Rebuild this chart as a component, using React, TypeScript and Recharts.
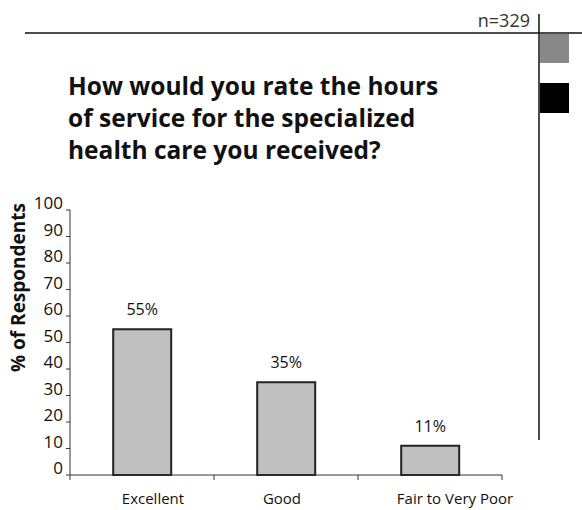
import React from "react";
import { BarChart, Bar, XAxis, YAxis, LabelList, Label } from "recharts";

// 카테고리와 응답 비율(%)
const categories = ["Excellent", "Good", "Fair to Very Poor"];
const percents = [55, 35, 11];
const yTicks = [0, 10, 20, 30, 40, 50, 60, 70, 80, 90, 100];
const edgeTicks = [0, 1, 2, 3];
const titleLines = [
  "How would you rate the hours",
  "of service for the specialized",
  "health care you received?",
];
const sampleNote = "n=329";

// 엑셀 원본처럼 카테고리 라벨이 살짝 어긋나 있음 (스타일용 이동값)
const labelShift: Record<string, number> = {
  Excellent: 11,
  Good: -4,
  "Fair to Very Poor": 25,
};

const data = categories.map((name, i) => ({ name, value: percents[i], edge: i }));

const FONT = "'Open Sans', sans-serif";

function YTick(props: any) {
  const { x, y, payload } = props;
  return (
    <text x={x} y={y} dy={-1} textAnchor="end" fontSize={17} fontFamily={FONT} fill="#111">
      {payload.value}
    </text>
  );
}

function XTick(props: any) {
  const { x, y, payload } = props;
  const shift = labelShift[payload.value] ?? 0;
  return (
    <text x={x + shift} y={y} dy={20} textAnchor="middle" fontSize={15} fontFamily={FONT} fill="#111">
      {payload.value}
    </text>
  );
}

function YLabel(props: any) {
  const vb = props.viewBox || {};
  const cx = 18;
  const cy = vb.y + vb.height / 2 - 55;
  return (
    <text
      x={cx}
      y={cy}
      transform={`rotate(-90, ${cx}, ${cy})`}
      textAnchor="middle"
      dominantBaseline="central"
      fontSize={19}
      fontWeight="bold"
      fontFamily={FONT}
      fill="#111"
    >
      % of Respondents
    </text>
  );
}

export default function App() {
  return (
    <div style={{ position: "absolute", left: 0, top: 0, width: 582, height: 510, background: "#fff" }}>
      {/* 상단 장식선, 제목, n 표기 */}
      <svg width={582} height={510} style={{ position: "absolute", left: 0, top: 0 }}>
        <line x1={25} y1={33} x2={582} y2={33} stroke="#111" strokeWidth={1.5} />
        <line x1={539} y1={14} x2={539} y2={440} stroke="#111" strokeWidth={1.5} />
        <rect x={540} y={34} width={29} height={29} fill="#888" />
        <rect x={540} y={83} width={29} height={30} fill="#000" />
        <text x={530} y={27} textAnchor="end" fontSize={18} fontFamily={FONT} fill="#333">
          {sampleNote}
        </text>
        {titleLines.map((t, i) => (
          <text
            key={t}
            x={68}
            y={95 + i * 32}
            fontSize={24.5}
            fontWeight="bold"
            fontFamily={FONT}
            fill="#111"
          >
            {t}
          </text>
        ))}
      </svg>
      <div style={{ position: "absolute", left: 0, top: 0 }}>
        <BarChart
          width={582}
          height={510}
          data={data}
          margin={{ top: 210, right: 80, bottom: 5, left: 0 }}
          barCategoryGap="30%"
        >
          <XAxis
            xAxisId="b_cat"
            dataKey="name"
            height={29}
            axisLine={false}
            tickLine={false}
            tick={<XTick />}
            interval={0}
          />
          <XAxis
            xAxisId="a_edges"
            dataKey="edge"
            type="number"
            domain={[0, 3]}
            ticks={edgeTicks}
            allowDataOverflow
            height={1}
            tickSize={5}
            tickFormatter={() => ""}
            stroke="#333"
          />
          <YAxis
            width={70}
            domain={[0, 100]}
            ticks={yTicks}
            interval={0}
            tickSize={4}
            tickMargin={3}
            stroke="#333"
            tick={<YTick />}
          >
            <Label content={<YLabel />} />
          </YAxis>
          <Bar
            xAxisId="b_cat"
            dataKey="value"
            fill="#c0c0c0"
            stroke="#222"
            strokeWidth={2}
            isAnimationActive={false}
          >
            <LabelList
              dataKey="value"
              position="top"
              offset={14}
              formatter={(v: any) => `${v}%`}
              style={{ fontSize: 16, fontFamily: FONT, fill: "#111" }}
            />
          </Bar>
        </BarChart>
      </div>
    </div>
  );
}
